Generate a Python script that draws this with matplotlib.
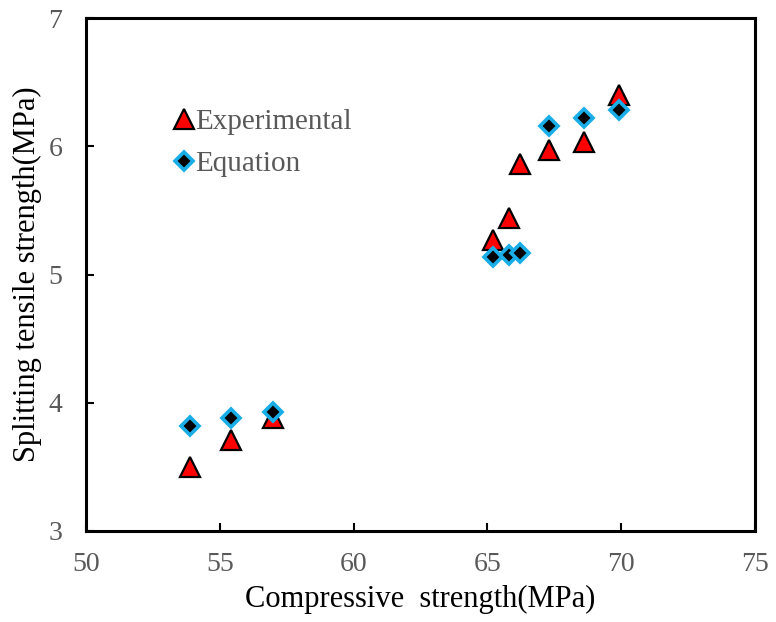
import numpy as np
import matplotlib.pyplot as plt

plt.rcParams['font.family'] = ['Liberation Serif', 'DejaVu Serif']

# compressive strength (MPa)
comp = [53.9, 55.4, 57.0, 65.2, 65.8, 66.2, 67.3, 68.6, 69.9]
# splitting tensile strength (MPa)
experimental = [3.50, 3.71, 3.88, 5.27, 5.44, 5.86, 5.97, 6.03, 6.40]
equation = [3.82, 3.88, 3.93, 5.14, 5.15, 5.17, 6.16, 6.22, 6.28]

xticks = [50, 55, 60, 65, 70, 75]
yticks = [3, 4, 5, 6, 7]

grey = '#595959'

fig = plt.figure(figsize=(7.76, 6.22), dpi=100)
ax = fig.add_axes([86/776, 1-531/622, 669/776, 513/622])

ax.plot(comp, experimental, linestyle='none', marker='^', markersize=14,
        markerfacecolor='red', markeredgecolor='black', markeredgewidth=1.6,
        label='Experimental')
ax.plot(comp, equation, linestyle='none', marker='D', markersize=9.5,
        markerfacecolor='black', markeredgecolor='#1aaee8', markeredgewidth=2.6,
        label='Equation')

ax.set_xlim(50, 75)
ax.set_ylim(3, 7)
ax.set_xticks(xticks)
ax.set_yticks(yticks)
ax.tick_params(direction='in', length=6, width=1.5, labelsize=20,
               labelcolor=grey, pad=15)
ax.tick_params(axis='y', pad=17)
for s in ax.spines.values():
    s.set_linewidth(2.2)

ax.set_xlabel('Compressive  strength(MPa)', fontsize=22, labelpad=6)
ax.set_ylabel('Splitting tensile strength(MPa)', fontsize=22, labelpad=5)

leg = ax.legend(loc='upper left', bbox_to_anchor=(0.085, 0.875), frameon=False,
                fontsize=21, labelcolor=grey, handletextpad=-0.1,
                handlelength=1.0, labelspacing=0.55)

fig.savefig('out.png', dpi=100)
